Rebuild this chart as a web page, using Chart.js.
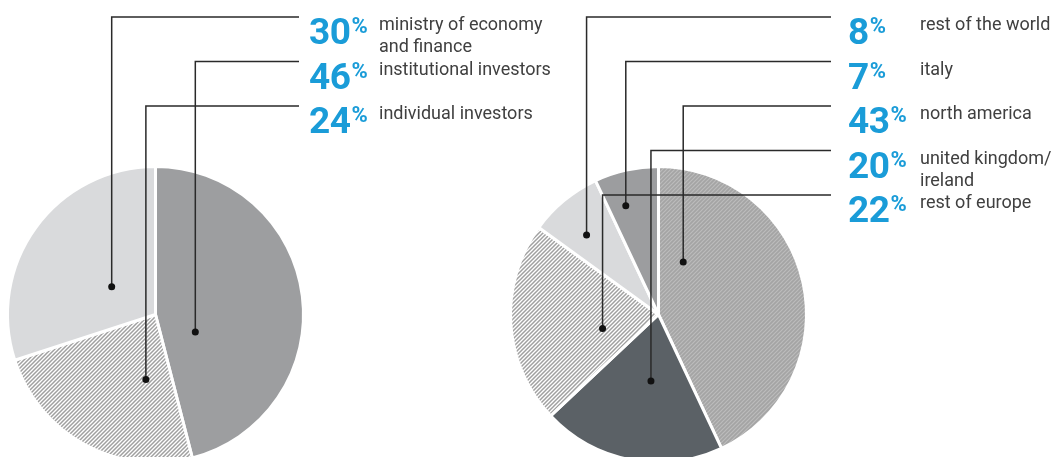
<!DOCTYPE html>
<html>
<head>
<meta charset="utf-8">
<script src="https://cdn.jsdelivr.net/npm/chart.js@4"></script>
<style>
    body { margin: 0; width: 1060px; height: 457px; overflow: hidden; background: #fff; font-family: Roboto, sans-serif; }
    .wrap { position: relative; width: 1060px; height: 457px; }
    canvas { position: absolute; left: 0; top: 0; }
    .pct { position: absolute; color: #1a9cd8; font-weight: 700; font-size: 37px; line-height: 37px; white-space: nowrap; letter-spacing: -0.5px; }
    .pct span { font-size: 22px; line-height: 22px; vertical-align: top; position: relative; top: 2px; margin-left: 1px; }
    .txt { position: absolute; color: #404040; font-size: 18px; line-height: 22px; white-space: pre-line; }
</style>
</head>
<body>
<div class="wrap" id="wrap">
    <canvas id="ownerChart" width="1060" height="480"></canvas>
    <canvas id="regionChart" width="1060" height="480"></canvas>
</div>
<script>
// shareholders by type (slice order = clockwise from 12 o'clock)
const ownerLabels = ['institutional investors', 'individual investors', 'ministry of economy\nand finance'];
const ownerValues = [46, 24, 30];
const ownerRows = [1, 2, 0];   // position in the legend column

// institutional investors by region
const regionLabels = ['north america', 'united kingdom/\nireland', 'rest of europe', 'rest of the world', 'italy'];
const regionValues = [43, 20, 22, 8, 7];
const regionRows = [2, 3, 4, 0, 1];

const ROW_TOP = 17;
const ROW_GAP = 44.5;

function stripes(bg, fg, size, width) {
    const c = document.createElement('canvas');
    c.width = size;
    c.height = size;
    const g = c.getContext('2d');
    g.fillStyle = bg;
    g.fillRect(0, 0, size, size);
    g.strokeStyle = fg;
    g.lineWidth = width;
    g.beginPath();
    g.moveTo(0, size); g.lineTo(size, 0);
    g.moveTo(-1, 1); g.lineTo(1, -1);
    g.moveTo(size - 1, size + 1); g.lineTo(size + 1, size - 1);
    g.stroke();
    return g.createPattern(c, 'repeat');
}

// leader lines: dot inside the slice, up to the legend row, then across
const leaderPlugin = {
    id: 'leaders',
    afterDatasetsDraw(chart, args, opts) {
        const arcs = chart.getDatasetMeta(0).data;
        if (!arcs.length) return;
        const cx = arcs[0].x, cy = arcs[0].y, r = arcs[0].outerRadius;
        const ctx = chart.ctx;
        ctx.save();
        ctx.strokeStyle = '#2a2a2a';
        ctx.fillStyle = '#111';
        ctx.lineWidth = 1.5;
        opts.dots.forEach((d, i) => {
            const x = cx + d[0] * r;
            const y = cy + d[1] * r;
            const rowY = ROW_TOP + opts.rows[i] * ROW_GAP;
            ctx.beginPath();
            ctx.moveTo(x, y);
            ctx.lineTo(x, rowY);
            ctx.lineTo(opts.endX, rowY);
            ctx.stroke();
            ctx.beginPath();
            ctx.arc(x, y, 3.5, 0, Math.PI * 2);
            ctx.fill();
        });
        ctx.restore();
    }
};

function makePie(id, labels, values, colors, padding, leaders) {
    return new Chart(document.getElementById(id).getContext('2d'), {
        type: 'pie',
        data: { labels: labels, datasets: [{ data: values, backgroundColor: colors, borderColor: '#fff', borderWidth: 3 }] },
        options: {
            responsive: false,
            animation: false,
            events: [],
            layout: { padding: padding },
            plugins: {
                legend: { display: false },
                tooltip: { enabled: false },
                leaders: leaders
            }
        },
        plugins: [leaderPlugin]
    });
}

function addLegend(labels, values, rows, pctX, txtX) {
    const wrap = document.getElementById('wrap');
    labels.forEach((label, i) => {
        const rowY = ROW_TOP + rows[i] * ROW_GAP;
        const pct = document.createElement('div');
        pct.className = 'pct';
        pct.style.left = pctX + 'px';
        pct.style.top = (rowY - 3.8) + 'px';
        pct.innerHTML = values[i] + '<span>%</span>';
        wrap.appendChild(pct);

        const txt = document.createElement('div');
        txt.className = 'txt';
        txt.style.left = txtX + 'px';
        txt.style.top = (rowY - 4) + 'px';
        txt.textContent = label;
        wrap.appendChild(txt);
    });
}

makePie('ownerChart', ownerLabels, ownerValues,
    ['#9d9ea0', stripes('#ffffff', '#a0a0a0', 4, 1.5), '#d9dadc'],
    { left: 6, top: 165, right: 755, bottom: 16 },
    { endX: 299, rows: ownerRows, dots: [[0.269, 0.119], [-0.065, 0.439], [-0.296, -0.187]] });

makePie('regionChart', regionLabels, regionValues,
    [stripes('#a4a4a4', '#bcbcbc', 4, 1.2), '#5b6166', stripes('#ffffff', '#a0a0a0', 4, 1.5), '#d9dadc', '#9c9d9f'],
    { left: 509, top: 165, right: 252, bottom: 16 },
    { endX: 831, rows: regionRows, dots: [[0.167, -0.354], [-0.051, 0.449], [-0.378, 0.095], [-0.486, -0.537], [-0.221, -0.735]] });

addLegend(ownerLabels, ownerValues, ownerRows, 309, 379);
addLegend(regionLabels, regionValues, regionRows, 848, 920);
</script>
</body>
</html>
